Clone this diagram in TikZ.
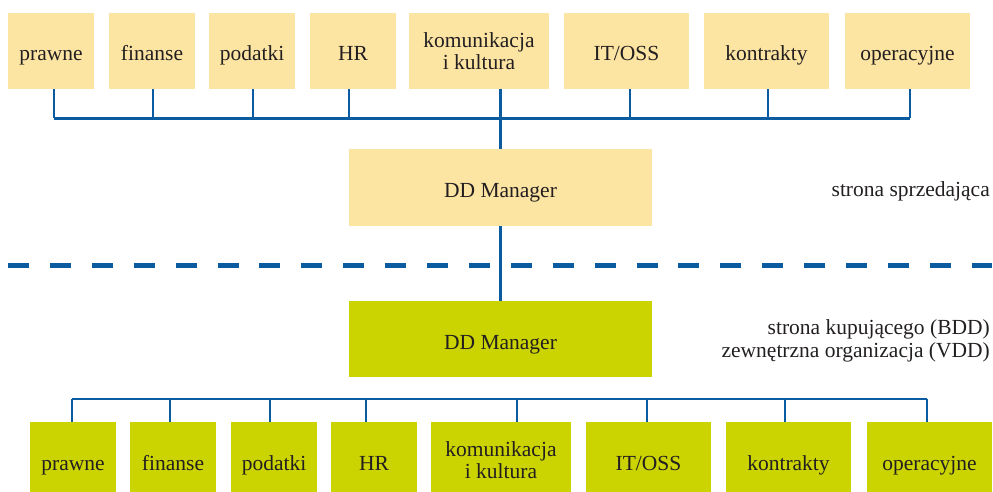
\documentclass[tikz,border=0pt]{standalone}
\usepackage{fontspec}
\setmainfont{Liberation Serif}
\definecolor{sellfill}{HTML}{FCE4A3}
\definecolor{buyfill}{HTML}{CBD400}
\definecolor{linkblue}{HTML}{0B5BA1}
\definecolor{txt}{HTML}{231F20}
\begin{document}
\begin{tikzpicture}[x=1pt,y=-1pt,
  every node/.style={text=txt,font=\fontsize{21.5}{22.5}\selectfont,inner sep=0pt},
  sellbox/.style={fill=sellfill,minimum height=76pt,align=center},
  buybox/.style={fill=buyfill,minimum height=76pt,align=center},
  oneline/.style={text height=20pt,text depth=0pt},
  conn/.style={draw=linkblue,line width=2.2pt},
  sep/.style={draw=linkblue,line width=5pt,dash pattern=on 21pt off 20.9pt},
  side/.style={align=right}]
\clip (0,0) rectangle (993,492);
% top row (selling side)
\node[sellbox,oneline,minimum width=86pt]  (t1) at (51,51) {prawne};
\node[sellbox,oneline,minimum width=86pt]  (t2) at (152,51) {finanse};
\node[sellbox,oneline,minimum width=86pt]  (t3) at (252,51) {podatki};
\node[sellbox,oneline,minimum width=86pt]  (t4) at (353,51) {HR};
\node[sellbox,minimum width=140pt] (t5) at (479,51) {komunikacja\\i kultura};
\node[sellbox,oneline,minimum width=125pt] (t6) at (626.5,51) {IT/OSS};
\node[sellbox,oneline,minimum width=125pt] (t7) at (766.5,51) {kontrakty};
\node[sellbox,oneline,minimum width=125pt] (t8) at (907.5,51) {operacyjne};
\node[sellbox,oneline,minimum width=303pt,minimum height=77pt] (dd1) at (500.5,187.5) {DD Manager};
\node[anchor=base east] (rs) at (990,196) {strona sprzedająca};
% bottom row (buying side)
\node[buybox,oneline,minimum width=303pt] (dd2) at (500.5,339) {DD Manager};
\node[side,anchor=east] (rb) at (990,341) {strona kupującego (BDD)\\zewnętrzna organizacja (VDD)};
\node[buybox,oneline,minimum width=86pt]  (b1) at (73,460) {prawne};
\node[buybox,oneline,minimum width=86pt]  (b2) at (173,460) {finanse};
\node[buybox,oneline,minimum width=86pt]  (b3) at (274,460) {podatki};
\node[buybox,oneline,minimum width=86pt]  (b4) at (374,460) {HR};
\node[buybox,minimum width=140pt] (b5) at (501,460) {komunikacja\\i kultura};
\node[buybox,oneline,minimum width=125pt] (b6) at (648.5,460) {IT/OSS};
\node[buybox,oneline,minimum width=125pt] (b7) at (788.5,460) {kontrakty};
\node[buybox,oneline,minimum width=125pt] (b8) at (929.5,460) {operacyjne};
% bars
\coordinate (tbar) at (0,118.5);
\coordinate (bbar) at (0,399);
\coordinate (dl) at (8,265);
\coordinate (dr) at (992,265);
% top connectors
\foreach \n/\d in {t1/3,t2/1,t3/1,t4/-4,t6/3.5,t7/1.5,t8/2.5}{
  \draw[conn] ([xshift=\d pt]\n.south) -- ([xshift=\d pt]\n.south |- tbar);
}
\draw[conn] ([xshift=3pt]t1.south |- tbar) -- ([xshift=2.5pt]t8.south |- tbar);
\draw[conn] (t5.south -| dd1.north) -- (dd1.north);
\draw[conn] (dd1.south) -- (dd2.north);
% separator
\draw[sep] (dl) -- (dr);
% bottom connectors
\foreach \n/\d in {b1/-1,b2/-3,b3/-4,b4/-8,b5/16,b6/-1.5,b7/-3.5,b8/-2.5}{
  \draw[conn] ([xshift=\d pt]\n.north) -- ([xshift=\d pt]\n.north |- bbar);
}
\draw[conn] ([xshift=-1pt]b1.north |- bbar) -- ([xshift=-2.5pt]b8.north |- bbar);
\end{tikzpicture}
\end{document}
